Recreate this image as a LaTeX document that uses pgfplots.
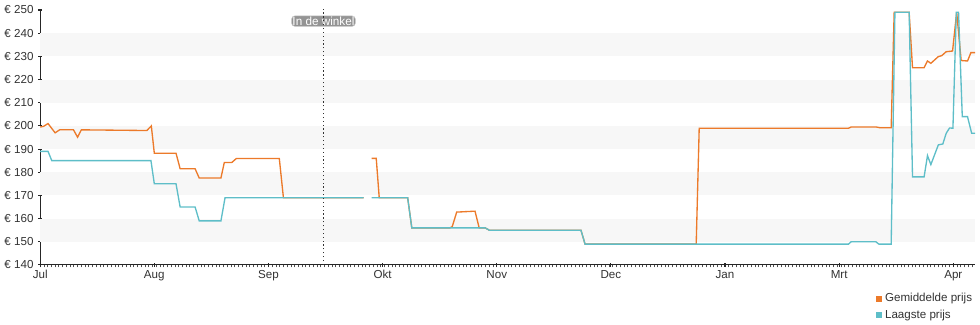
\documentclass[border=0pt]{standalone}
\usepackage{pgfplots}
\pgfplotsset{compat=1.18}
\usepackage{fontspec}
\setmainfont{Liberation Sans}
\definecolor{gemid}{RGB}{236,122,42}
\definecolor{laag}{RGB}{94,190,200}
\definecolor{band}{RGB}{247,247,247}
\definecolor{txt}{RGB}{50,50,50}
\begin{document}
\begin{tikzpicture}
\begin{axis}[
  at={(0pt,0pt)}, anchor=south west,
  scale only axis, width=701.25pt, height=191.25pt,
  xmin=0, xmax=249.8, ymin=140, ymax=250,
  axis x line*=bottom, axis y line*=left,
  axis line style={-, draw=black!85, line width=0.8pt},
  unbounded coords=jump,
  ytick={140,150,...,250},
  yticklabels={€ 140,€ 150,€ 160,€ 170,€ 180,€ 190,€ 200,€ 210,€ 220,€ 230,€ 240,€ 250},
  xtick={0,30.5,61,91.5,122,152.5,183,213.5,244},
  xticklabels={Jul,Aug,Sep,Okt,Nov,Dec,Jan,Mrt,Apr},
  minor xtick={0,1,...,249},
  tick align=center,
  major tick length=3pt,
  minor tick length=1.6pt,
  major tick style={black!85, line width=0.8pt},
  minor x tick style={black!70, line width=0.6pt, yshift=-1.1pt},
  tick label style={font=\fontsize{8.7}{10}\selectfont, color=txt},
  xticklabel style={yshift=1pt},
  legend style={at={(1,-0.1)}, anchor=north east, draw=none, fill=none,
    font=\fontsize{8.7}{10}\selectfont, text=txt, inner sep=0pt, row sep=0.5pt,
    legend cell align=left},
  legend image code/.code={\fill[#1] (0pt,-1.8pt) rectangle (3.6pt,1.8pt);},
]
\fill[band] (axis cs:0,150) rectangle (axis cs:249.8,160);
\fill[band] (axis cs:0,170) rectangle (axis cs:249.8,180);
\fill[band] (axis cs:0,190) rectangle (axis cs:249.8,200);
\fill[band] (axis cs:0,210) rectangle (axis cs:249.8,220);
\fill[band] (axis cs:0,230) rectangle (axis cs:249.8,240);

\addplot[color=gemid, line width=1pt] coordinates {
(0,199.5) (0.9,199.8) (2.1,201) (4.0,197) (5.2,198.3) (8.9,198.3) (10.0,195.1)
(11.0,198.3) (28.5,198) (29.7,200) (30.5,188.2) (36.3,188.2) (37.4,181.5)
(41.4,181.5) (42.5,177.5) (48.3,177.5) (49.2,184.2) (51.2,184.2) (52.4,185.9)
(63.9,185.9) (65.0,169) (86.4,169) (87.5,nan) (88.6,186) (89.8,186) (90.6,169)
(98.2,169) (99.3,156) (109.5,156) (110.1,156.5) (111.3,162.8) (113.7,163)
(116.2,163.2) (117.3,156) (118.9,156) (120.0,155) (144.5,155) (145.6,149)
(175.3,149) (176.1,199) (216.0,199) (216.7,199.5) (223.5,199.5) (224.4,199.2)
(227.4,199.2) (228.2,249) (232.2,249) (233.1,225.1) (236.2,225.1) (237.1,228)
(238.0,227) (240.0,229.9) (240.9,230.3) (242.1,232) (243.8,232.3) (244.9,249)
(246.1,228.2) (247.8,228) (248.7,231.6) (249.8,231.6)
};
\addlegendentry{Gemiddelde prijs}

\addplot[color=laag, line width=1pt] coordinates {
(0,189) (2.1,189) (3.1,185) (29.6,185) (30.5,175) (36.3,175) (37.4,165)
(41.4,165) (42.5,159) (48.3,159) (49.4,169) (86.4,169) (87.5,nan) (88.6,169)
(98.2,169) (99.3,156) (118.9,156) (120.0,155) (144.5,155) (145.6,149)
(216.0,149) (216.7,150) (223.3,150) (224.1,149) (227.4,149) (228.4,249)
(232.2,249) (233.1,178) (236.2,178) (237.1,187.2) (238.0,183.3) (240.0,191.8)
(241.2,192.2) (242.1,196.8) (243.0,199.1) (243.9,199) (244.8,249) (245.4,249)
(246.4,204) (247.8,204) (248.9,196.8) (249.8,196.8)
};
\addlegendentry{Laagste prijs}

\node[fill=black!42, draw=black!22, text=white, rounded corners=2.5pt, inner sep=0.7pt,
  font=\fontsize{8.8}{9}\selectfont] at (axis cs:75.7,245.2) {In de winkel};
\draw[dotted, line width=0.9pt, black!80] (axis cs:75.7,140) -- (axis cs:75.7,250.5);
\end{axis}
\path[use as bounding box] (-30pt,-45pt) rectangle (705pt,198.75pt);
\end{tikzpicture}
\end{document}
